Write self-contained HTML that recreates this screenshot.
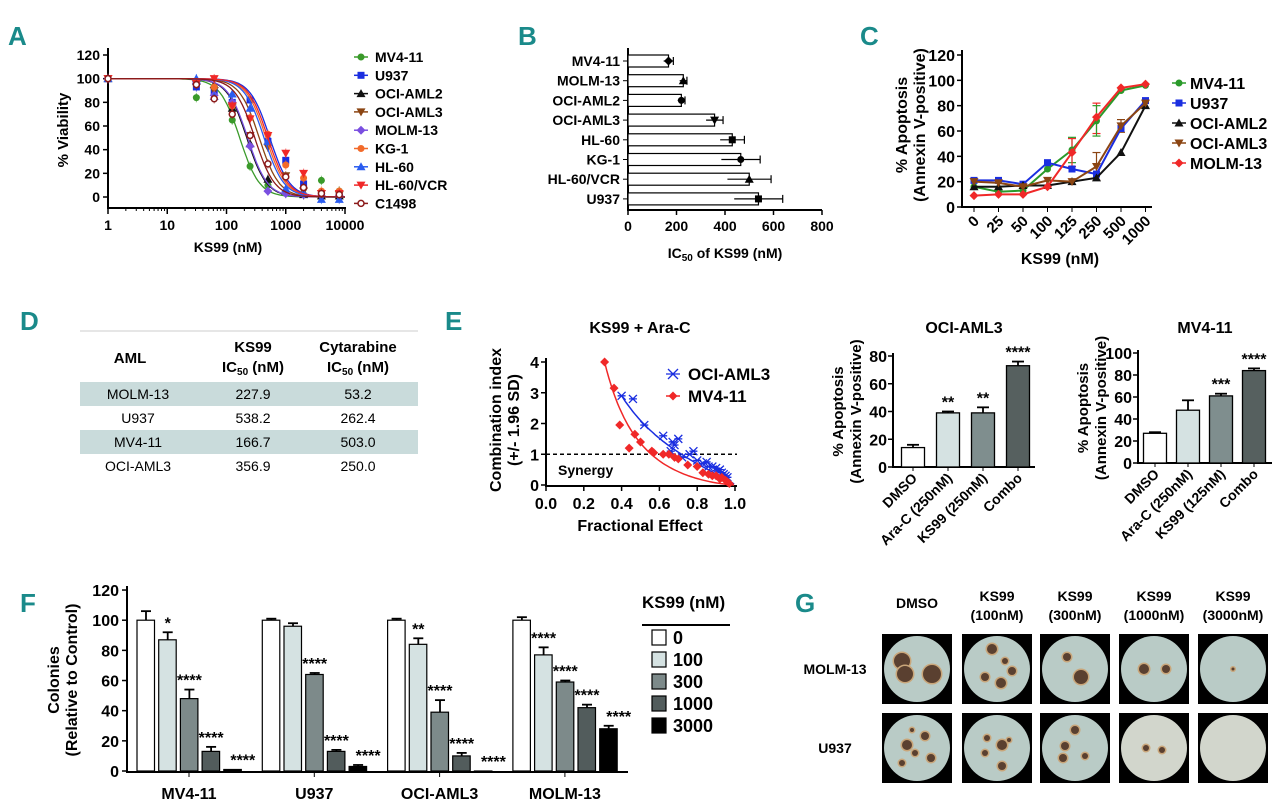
<!DOCTYPE html>
<html><head><meta charset="utf-8"><style>
body{margin:0;background:#fff}
svg{display:block;font-family:"Liberation Sans",Arial,sans-serif;font-weight:bold}
.pl{fill:#1a8a8a;font-size:26px;font-weight:bold}
</style></head><body>
<svg id="s" width="1280" height="803" viewBox="0 0 1280 803" xmlns="http://www.w3.org/2000/svg">
<g>
<text class="pl" x="8" y="45">A</text>
<text class="pl" x="518" y="45">B</text>
<text class="pl" x="860" y="45">C</text>
<text class="pl" x="20" y="330">D</text>
<text class="pl" x="445" y="330">E</text>
<text class="pl" x="20" y="612">F</text>
<text class="pl" x="795" y="612">G</text>
</g>
<g id="gA"></g>
<g id="gB"></g>
<g id="gC"></g>
<g id="gD"></g>
<g id="gE"></g>
<g id="gF"></g>
<g id="gG"></g>
</svg>
<script>
// ---- Panel A data
const aConc=[1,31,62,125,250,500,1000,2000,4000,8000];
const aNames=["MV4-11","U937","OCI-AML2","OCI-AML3","MOLM-13","KG-1","HL-60","HL-60/VCR","C1498"];
const aIC50=[167,538,220,357,228,465,430,500,300];
const aV0=[100,84,93,65,26,10,3,2,14,5];
const aV1=[100,93,90,80,82,47,31,11,2,1];
const aV2=[100,98,95,75,45,15,5,2,1,1];
const aV3=[100,96,90,76,52,42,18,5,3,2];
const aV4=[100,96,86,80,43,5,3,2,1,1];
const aV5=[100,97,93,77,67,53,27,16,5,5];
const aV6=[100,100,85,87,75,47,7,3,-2,-2];
const aV7=[100,96,100,77,66,52,37,20,3,3];
const aV8=[100,95,83,70,52,28,17,8,3,2];
const aVals=[aV0,aV1,aV2,aV3,aV4,aV5,aV6,aV7,aV8];
const aColors=["#3a9a2a","#1a2ee0","#111","#8b4513","#7a4fe0","#f26a2a","#2a5cf0","#f02828","#8b1a1a"];
const aMarks=["circle","square","tri","tridown","diamond","circle","tri","tridown","circleo"];
const aYTicks=[0,20,40,60,80,100,120];
const aXTicks=[1,10,100,1000,10000];
// ---- Panel B
const bNames=["MV4-11","MOLM-13","OCI-AML2","OCI-AML3","HL-60","KG-1","HL-60/VCR","U937"];
const bVals=[167,228,220,357,430,465,500,538];
const bErr=[20,15,15,35,50,80,90,100];
const bXTicks=[0,200,400,600,800];
// ---- Panel C
const cCats=["0","25","50","100","125","250","500","1000"];
const cNames=["MV4-11","U937","OCI-AML2","OCI-AML3","MOLM-13"];
const cV0=[16,12,13,30,45,68,92,96];
const cV1=[21,21,18,35,30,26,62,84];
const cV2=[16,16,17,17,20,23,43,80];
const cV3=[20,19,16,21,20,32,64,82];
const cV4=[9,10,10,16,43,71,94,97];
const cVals=[cV0,cV1,cV2,cV3,cV4];
const cColors=["#2a9a2a","#1a2ee0","#111","#8b4513","#f02828"];
const cMarks=["circle","square","tri","tridown","diamond"];
const cYTicks=[0,20,40,60,80,100,120];
// ---- Panel D
const dRows=[["MOLM-13","227.9","53.2"],["U937","538.2","262.4"],["MV4-11","166.7","503.0"],["OCI-AML3","356.9","250.0"]];
// ---- Panel E
const eFaOci=[0.40,0.46,0.52,0.62,0.66,0.67,0.68,0.70,0.72,0.76,0.78,0.80,0.83,0.85,0.86,0.88,0.90,0.91,0.92,0.93,0.94,0.95,0.96];
const eCiOci=[2.9,2.8,1.95,1.6,1.1,1.4,1.3,1.5,0.9,1.0,1.1,0.8,0.7,0.75,0.6,0.6,0.55,0.45,0.5,0.4,0.35,0.3,0.25];
const eFaMv=[0.31,0.36,0.39,0.44,0.47,0.50,0.56,0.57,0.62,0.65,0.68,0.70,0.75,0.80,0.83,0.86,0.88,0.90,0.92,0.93,0.95,0.96,0.97];
const eCiMv=[4.0,3.15,1.95,1.2,1.65,1.4,1.1,1.05,1.0,1.0,0.9,0.85,0.65,0.6,0.4,0.35,0.3,0.3,0.2,0.25,0.15,0.1,0.05];
const eBarCats1=["DMSO","Ara-C (250nM)","KS99 (250nM)","Combo"];
const eBarVals1=[14,39,39,73];
const eBarErr1=[2,1,4,3];
const eBarStars1=["","**","**","****"];
const eBarCats2=["DMSO","Ara-C (250nM)","KS99 (125nM)","Combo"];
const eBarVals2=[27,48,61,84];
const eBarErr2=[1,9,2,2];
const eBarStars2=["","","***","****"];
const eBarFill=["#fff","#d5e2e2","#7f8e8e","#56605f"];
// ---- Panel F
const fGroups=["MV4-11","U937","OCI-AML3","MOLM-13"];
const fDoses=["0","100","300","1000","3000"];
const fG0=[100,87,48,13,1];
const fG1=[100,96,64,13,3];
const fG2=[100,84,39,10,0];
const fG3=[100,77,59,42,28];
const fVals=[fG0,fG1,fG2,fG3];
const fErr=[[6,5,6,3,0],[1,2,1,1,1],[1,4,8,2,0],[2,5,1,2,2]];
const fStars=[["","*","****","****","****"],["","","****","****","****"],["","**","****","****","****"],["","****","****","****","****"]];
const fFill=["#fff","#d5e2e2","#7d8a8a","#525c5c","#000"];
const fYTicks=[0,20,40,60,80,100,120];

const NS="http://www.w3.org/2000/svg";
function mk(p,t,a,txt){const e=document.createElementNS(NS,t);for(const k in a)e.setAttribute(k,a[k]);if(txt!==undefined)e.textContent=txt;p.appendChild(e);return e;}
function marker(p,type,x,y,c,r){
  let e;
  if(type=="circle")e=mk(p,"circle",{cx:x,cy:y,r:r,fill:c});
  else if(type=="circleo")e=mk(p,"circle",{cx:x,cy:y,r:r-0.5,fill:"#fff",stroke:c,"stroke-width":1.5});
  else if(type=="square")e=mk(p,"rect",{x:x-r,y:y-r,width:2*r,height:2*r,fill:c});
  else if(type=="tri")e=mk(p,"polygon",{points:`${x},${y-r-1} ${x-r-1},${y+r} ${x+r+1},${y+r}`,fill:c});
  else if(type=="tridown")e=mk(p,"polygon",{points:`${x},${y+r+1} ${x-r-1},${y-r} ${x+r+1},${y-r}`,fill:c});
  else e=mk(p,"polygon",{points:`${x},${y-r-1} ${x+r+1},${y} ${x},${y+r+1} ${x-r-1},${y}`,fill:c});
  
  
  return e;
}
function rtext(p,x,y,s,size,rot,anchor){const t=mk(p,"text",{x:x,y:y,"font-size":size,"text-anchor":anchor||"middle",transform:`rotate(${rot} ${x} ${y})`},s);return t;}

// ===== Panel A
(function(){
 const g=document.getElementById("gA");
 const X=v=>108+Math.log10(v)*59.25, Y=v=>197-v*142/120;
 mk(g,"line",{x1:108,y1:48,x2:108,y2:208,stroke:"#000","stroke-width":2});
 mk(g,"line",{x1:107,y1:208,x2:346,y2:208,stroke:"#000","stroke-width":2});
 aYTicks.forEach(v=>{mk(g,"line",{x1:103,y1:Y(v),x2:108,y2:Y(v),stroke:"#000","stroke-width":1.5});
  const t=mk(g,"text",{x:100,y:Y(v)+5,"font-size":14,"text-anchor":"end"},v);});
 aXTicks.forEach(v=>{mk(g,"line",{x1:X(v),y1:208,x2:X(v),y2:214,stroke:"#000","stroke-width":1.5});
  const t=mk(g,"text",{x:X(v),y:230,"font-size":14,"text-anchor":"middle"},v);});
 for(let d=0;d<4;d++)for(let k=2;k<10;k++){const x=X(Math.pow(10,d)*k);mk(g,"line",{x1:x,y1:208,x2:x,y2:211,stroke:"#000"});}
 const yt=rtext(g,68,130,"% Viability",15,-90);
 const xt=mk(g,"text",{x:228,y:252,"font-size":14,"text-anchor":"middle"},"KS99 (nM)");
 aNames.forEach((n,i)=>{
  const c=aColors[i];let d="";
  for(let k=0;k<=120;k++){const lx=k*4/120;const v=Math.pow(10,lx);const y=100/(1+Math.pow(v/aIC50[i],2.6));d+=(k?"L":"M")+X(v).toFixed(1)+","+Y(y).toFixed(1);}
  const p=mk(g,"path",{d:d,fill:"none",stroke:c,"stroke-width":1.3});
  aVals[i].forEach((v,j)=>{const x=X(aConc[j]);mk(g,"line",{x1:x,y1:Y(v+4),x2:x,y2:Y(v-4),stroke:c,"stroke-width":1,opacity:0.6});marker(g,aMarks[i],x,Y(v),c,3.5);});
  const ly=57+i*18.3;mk(g,"line",{x1:354,y1:ly,x2:368,y2:ly,stroke:c,"stroke-width":1.5});marker(g,aMarks[i],361,ly,c,3.5);
  const t=mk(g,"text",{x:375,y:ly+5,"font-size":14},n);
 });
})();

// ===== Panel B
(function(){
 const g=document.getElementById("gB");
 const X=v=>628+v*0.2425, Y=i=>61+i*19.7;
 mk(g,"line",{x1:628,y1:48,x2:628,y2:210,stroke:"#000","stroke-width":2});
 mk(g,"line",{x1:627,y1:210,x2:822,y2:210,stroke:"#000","stroke-width":2});
 bXTicks.forEach(v=>{mk(g,"line",{x1:X(v),y1:210,x2:X(v),y2:215,stroke:"#000","stroke-width":1.5});
  const t=mk(g,"text",{x:X(v),y:231,"font-size":14,"text-anchor":"middle"},v);});
 bNames.forEach((n,i)=>{const y=Y(i);
  const r=mk(g,"rect",{x:628,y:y-6,width:X(bVals[i])-628,height:12,fill:"#fff",stroke:"#000","stroke-width":1.2});
  mk(g,"line",{x1:X(bVals[i]-bErr[i]),y1:y,x2:X(bVals[i]+bErr[i]),y2:y,stroke:"#000","stroke-width":1.2});
  mk(g,"line",{x1:X(bVals[i]+bErr[i]),y1:y-4,x2:X(bVals[i]+bErr[i]),y2:y+4,stroke:"#000","stroke-width":1.2});
  marker(g,["diamond","tri","circle","tridown","square","circle","tri","square"][i],X(bVals[i]),y,"#000",3.5);
  mk(g,"line",{x1:623,y1:y,x2:628,y2:y,stroke:"#000"});
  const t=mk(g,"text",{x:620,y:y+5,"font-size":14,"text-anchor":"end"},n);});
 const t=mk(g,"text",{x:725,y:258,"font-size":14,"text-anchor":"middle"});t.innerHTML='IC<tspan font-size="10" dy="3">50</tspan><tspan dy="-3"> of KS99 (nM)</tspan>';
 
})();

// ===== Panel C
(function(){
 const g=document.getElementById("gC");
 const X=i=>974+i*24.5, Y=v=>207-v*152/120;
 mk(g,"line",{x1:962,y1:50,x2:962,y2:207,stroke:"#000","stroke-width":2});
 mk(g,"line",{x1:961,y1:207,x2:1152,y2:207,stroke:"#000","stroke-width":2});
 cYTicks.forEach(v=>{mk(g,"line",{x1:957,y1:Y(v),x2:962,y2:Y(v),stroke:"#000","stroke-width":1.5});
  const t=mk(g,"text",{x:955,y:Y(v)+6,"font-size":16,"text-anchor":"end"},v);});
 cCats.forEach((c,i)=>{mk(g,"line",{x1:X(i),y1:207,x2:X(i),y2:212,stroke:"#000"});
  const t=rtext(g,X(i)+6,222,c,15,-45,"end");});
 const t1=rtext(g,907,125,"% Apoptosis",16,-90);
 const t2=rtext(g,925,125,"(Annexin V-positive)",16,-90);
 const xt=mk(g,"text",{x:1060,y:264,"font-size":16,"text-anchor":"middle"},"KS99 (nM)");
 [[4,45,10,"#2a9a2a"],[5,70,12,"#f02828"],[5,68,12,"#2a9a2a"],[4,43,11,"#f02828"],[5,32,11,"#8b4513"],[6,64,5,"#8b4513"]].forEach(a=>{const x=X(a[0]);
  mk(g,"line",{x1:x,y1:Y(a[1]-a[2]),x2:x,y2:Y(a[1]+a[2]),stroke:a[3],"stroke-width":1.2});
  mk(g,"line",{x1:x-4,y1:Y(a[1]+a[2]),x2:x+4,y2:Y(a[1]+a[2]),stroke:a[3],"stroke-width":1.2});
  mk(g,"line",{x1:x-4,y1:Y(a[1]-a[2]),x2:x+4,y2:Y(a[1]-a[2]),stroke:a[3],"stroke-width":1.2});});
 cNames.forEach((n,i)=>{const c=cColors[i];
  const p=mk(g,"polyline",{points:cVals[i].map((v,j)=>X(j)+","+Y(v)).join(" "),fill:"none",stroke:c,"stroke-width":2});
  cVals[i].forEach((v,j)=>marker(g,cMarks[i],X(j),Y(v),c,3.5));
  const ly=83+i*20;mk(g,"line",{x1:1172,y1:ly,x2:1186,y2:ly,stroke:c,"stroke-width":1.5});marker(g,cMarks[i],1179,ly,c,3.5);
  const t=mk(g,"text",{x:1190,y:ly+6,"font-size":16},n);});
})();

// ===== Panel D
(function(){
 const g=document.getElementById("gD");
 mk(g,"line",{x1:80,y1:331,x2:418,y2:331,stroke:"#ccc"});
 dRows.forEach((r,i)=>{const y=382+i*24;
  if(i%2==0){const b=mk(g,"rect",{x:80,y:y,width:338,height:24,fill:"#c9dbdb"});}
  [138,253,358].forEach((x,k)=>{const t=mk(g,"text",{x:x,y:y+17,"font-size":14,"font-weight":"normal","text-anchor":"middle"},r[k]);});
 });
 const h=[["AML",130,363],["KS99",253,352],["Cytarabine",358,352]];
 h.forEach(a=>{const t=mk(g,"text",{x:a[1],y:a[2],"font-size":15,"text-anchor":"middle"},a[0]);});
 [253,358].forEach(x=>{const t=mk(g,"text",{x:x,y:372,"font-size":15,"text-anchor":"middle"});t.innerHTML='IC<tspan font-size="10" dy="3">50</tspan><tspan dy="-3"> (nM)</tspan>';});
})();

// ===== Panel E
(function(){
 const g=document.getElementById("gE");
 const X=v=>546+v*189, Y=v=>485-v*30.75;
 mk(g,"line",{x1:546,y1:358,x2:546,y2:486,stroke:"#000","stroke-width":2});
 mk(g,"line",{x1:545,y1:486,x2:737,y2:486,stroke:"#000","stroke-width":2});
 [0,1,2,3,4].forEach(v=>{mk(g,"line",{x1:541,y1:Y(v),x2:546,y2:Y(v),stroke:"#000","stroke-width":1.5});const t=mk(g,"text",{x:539,y:Y(v)+6,"font-size":16,"text-anchor":"end"},v);});
 [0,0.2,0.4,0.6,0.8,1.0].forEach(v=>{mk(g,"line",{x1:X(v),y1:486,x2:X(v),y2:491,stroke:"#000","stroke-width":1.5});const t=mk(g,"text",{x:X(v),y:509,"font-size":16,"text-anchor":"middle"},v.toFixed(1));});
 mk(g,"line",{x1:546,y1:Y(1),x2:737,y2:Y(1),stroke:"#000","stroke-width":1.5,"stroke-dasharray":"4,3"});
 mk(g,"text",{x:558,y:475,"font-size":14},"Synergy");
 const tt=mk(g,"text",{x:640,y:333,"font-size":16,"text-anchor":"middle"},"KS99 + Ara-C");
 const xt=mk(g,"text",{x:640,y:531,"font-size":16,"text-anchor":"middle"},"Fractional Effect");
 rtext(g,501,420,"Combination index",16,-90);rtext(g,519,420,"(+/- 1.96 SD)",16,-90);
 function curve(a,b,c){let d="";for(let k=0;k<=60;k++){const fa=a+(0.995-a)*k/60;const ci=Math.pow((1-fa)/fa,b)*c;d+=(k?"L":"M")+X(fa).toFixed(1)+","+Y(Math.min(ci,4.2)).toFixed(1);}return d;}
 mk(g,"path",{d:curve(0.4,0.8,2.1),fill:"none",stroke:"#1a2ee0","stroke-width":1.5});
 mk(g,"path",{d:curve(0.31,1.35,1.36),fill:"none",stroke:"#f02828","stroke-width":1.5});
 eFaOci.forEach((f,i)=>{const x=X(f),y=Y(eCiOci[i]);const p=mk(g,"path",{d:`M${x-4},${y-4}L${x+4},${y+4}M${x-4},${y+4}L${x+4},${y-4}M${x-4},${y}L${x+4},${y}`,stroke:"#1a2ee0","stroke-width":1.3});});
 eFaMv.forEach((f,i)=>marker(g,"diamond",X(f),Y(eCiMv[i]),"#f02828",3.5));
 mk(g,"path",{d:"M668,369L678,379M668,379L678,369M666,374L680,374",stroke:"#1a2ee0","stroke-width":1.3});
 mk(g,"line",{x1:666,y1:396,x2:680,y2:396,stroke:"#f02828","stroke-width":1.5});marker(g,"diamond",673,396,"#f02828",3.5);
 mk(g,"text",{x:688,y:380,"font-size":17},"OCI-AML3");mk(g,"text",{x:688,y:402,"font-size":17},"MV4-11");
 function bars(ax,y0,ymax,vmax,ticks,first,step,w,xend,cats,vals,errs,stars,title){
  const Yb=v=>y0-(y0-ymax)*v/vmax;
  mk(g,"line",{x1:ax,y1:ymax-3,x2:ax,y2:y0,stroke:"#000","stroke-width":2});
  mk(g,"line",{x1:ax-1,y1:y0,x2:xend,y2:y0,stroke:"#000","stroke-width":2});
  ticks.forEach(v=>{mk(g,"line",{x1:ax-5,y1:Yb(v),x2:ax,y2:Yb(v),stroke:"#000","stroke-width":1.5});const t=mk(g,"text",{x:ax-6,y:Yb(v)+6,"font-size":16,"text-anchor":"end"},v);});
  const tt=mk(g,"text",{x:(ax+xend)/2,y:333,"font-size":16,"text-anchor":"middle"},title);
  rtext(g,ax-50,(y0+ymax)/2,"% Apoptosis",15,-90);rtext(g,ax-32,(y0+ymax)/2,"(Annexin V-positive)",15,-90);
  cats.forEach((c,i)=>{const cx=first+i*step;
   mk(g,"line",{x1:cx,y1:Yb(vals[i]),x2:cx,y2:Yb(vals[i]+errs[i]),stroke:"#000","stroke-width":1.8});
   mk(g,"line",{x1:cx-6,y1:Yb(vals[i]+errs[i]),x2:cx+6,y2:Yb(vals[i]+errs[i]),stroke:"#000","stroke-width":1.8});
   const r=mk(g,"rect",{x:cx-w/2,y:Yb(vals[i]),width:w,height:y0-Yb(vals[i]),fill:eBarFill[i],stroke:"#000","stroke-width":1.3});
   mk(g,"line",{x1:cx,y1:y0,x2:cx,y2:y0+4,stroke:"#000"});
   if(stars[i])mk(g,"text",{x:cx,y:Yb(vals[i]+errs[i])-4,"font-size":16,"text-anchor":"middle"},stars[i]);
   mk(g,"text",{x:cx+5,y:y0+12,"font-size":14,"text-anchor":"end",transform:`rotate(-45 ${cx+5} ${y0+12})`},c);
  });
 }
 bars(893,467,356,80,[0,20,40,60,80],913,35,23,1035,eBarCats1,eBarVals1,eBarErr1,eBarStars1,"OCI-AML3");
 bars(1138,463,353,100,[0,20,40,60,80,100],1155,33,23,1272,eBarCats2,eBarVals2,eBarErr2,eBarStars2,"MV4-11");
})();

// ===== Panel F
(function(){
 const g=document.getElementById("gF");
 const Y=v=>771-v*1.508;
 mk(g,"line",{x1:127,y1:586,x2:127,y2:772,stroke:"#000","stroke-width":2});
 mk(g,"line",{x1:126,y1:772,x2:628,y2:772,stroke:"#000","stroke-width":2});
 fYTicks.forEach(v=>{mk(g,"line",{x1:122,y1:Y(v),x2:127,y2:Y(v),stroke:"#000","stroke-width":1.5});const t=mk(g,"text",{x:119,y:Y(v)+6,"font-size":16,"text-anchor":"end"},v);});
 rtext(g,59,680,"Colonies",16,-90);rtext(g,77,680,"(Relative to Control)",16,-90);
 fGroups.forEach((n,gi)=>{const x0=137+gi*125.3;
  fVals[gi].forEach((v,j)=>{const x=x0+j*21.7;const e=fErr[gi][j];
   if(e){mk(g,"line",{x1:x+9,y1:Y(v),x2:x+9,y2:Y(v+e),stroke:"#000","stroke-width":1.8});mk(g,"line",{x1:x+4,y1:Y(v+e),x2:x+14,y2:Y(v+e),stroke:"#000","stroke-width":1.8});}
   const r=mk(g,"rect",{x:x,y:Y(v),width:17.5,height:Math.max(771-Y(v),0.8),fill:fFill[j],stroke:"#000","stroke-width":1.2});
   if(fStars[gi][j])mk(g,"text",{x:x+9+(j==4?10:0),y:Y(v+e)-4,"font-size":16,"text-anchor":"middle"},fStars[gi][j]);
  });
  mk(g,"line",{x1:x0+52,y1:772,x2:x0+52,y2:777,stroke:"#000"});
  const t=mk(g,"text",{x:x0+52,y:799,"font-size":16,"text-anchor":"middle"},n);
 });
 const lt=mk(g,"text",{x:642,y:608,"font-size":17},"KS99 (nM)");
 mk(g,"line",{x1:642,y1:625,x2:730,y2:625,stroke:"#000","stroke-width":2});
 fDoses.forEach((d,j)=>{const y=630+j*22;mk(g,"rect",{x:652,y:y,width:14,height:15,fill:fFill[j],stroke:"#000","stroke-width":1.2});
  const t=mk(g,"text",{x:673,y:y+14,"font-size":18},d);});
})();

// ===== Panel G
(function(){
 const g=document.getElementById("gG");
 const cols=["DMSO","KS99|(100nM)","KS99|(300nM)","KS99|(1000nM)","KS99|(3000nM)"];
 const cx=[917,997,1075,1154,1233];
 const rows=[["MOLM-13",669],["U937",748]];
 cols.forEach((c,i)=>{const p=c.split("|");
  if(p.length==1)mk(g,"text",{x:cx[i],y:608,"font-size":14,"text-anchor":"middle"},p[0]);
  else{mk(g,"text",{x:cx[i],y:601,"font-size":14,"text-anchor":"middle"},p[0]);mk(g,"text",{x:cx[i],y:620,"font-size":14,"text-anchor":"middle"},p[1]);}
 });
 rows.forEach((r,ri)=>{const t=mk(g,"text",{x:835,y:r[1]+5,"font-size":14,"text-anchor":"middle"},r[0]);
  cx.forEach((x,i)=>{const s=mk(g,"rect",{x:x-35,y:r[1]-35,width:70,height:70,fill:"#000"});
   mk(g,"circle",{cx:x,cy:r[1],r:33,fill:i>=3&&ri==1?"#d2d6cc":"#b9cbc6"});
   const col=[[[-15,-8,8],[-12,5,8],[15,5,9]],[[-5,-20,5],[8,-8,3],[-12,8,4],[15,2,4],[4,14,5]],[[-8,-12,4],[6,8,7]],[[-10,0,5],[12,0,4]],[[0,0,1.5]]][i];
   const cs=ri==0?col:[[[-10,-3,5],[8,-12,4],[-2,5,3],[14,10,4],[-15,15,3],[-5,-18,2]],[[-10,-10,3],[5,-3,5],[-12,5,3],[12,-8,2],[5,18,4]],[[0,-18,4],[-10,-2,4],[-12,10,4],[10,8,3]],[[-8,0,3],[8,2,3]],[]][i];
   cs.forEach(k=>{mk(g,"circle",{cx:x+k[0],cy:r[1]+k[1],r:k[2]+1.5,fill:"#c9a67a"});mk(g,"circle",{cx:x+k[0],cy:r[1]+k[1],r:k[2],fill:"#5a4030"});});
  });
 });
})();
</script>
</body></html>
